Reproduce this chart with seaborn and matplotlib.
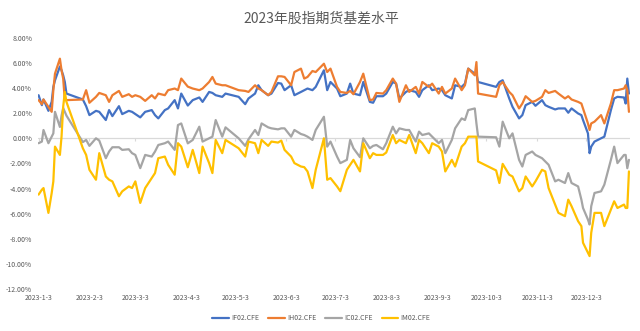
import matplotlib
matplotlib.use("Agg")
import matplotlib.pyplot as plt
import matplotlib.dates as mdates
from matplotlib.ticker import FuncFormatter
import seaborn as sns
import pandas as pd

# 2023 futures basis (%), sampled on trading days
dates = [
    "2023-01-03", "2023-01-05", "2023-01-06", "2023-01-09", "2023-01-11", "2023-01-12",
    "2023-01-13", "2023-01-16", "2023-01-17", "2023-01-18", "2023-01-19", "2023-01-20",
    "2023-01-30", "2023-02-01", "2023-02-03", "2023-02-07", "2023-02-09", "2023-02-13",
    "2023-02-15", "2023-02-17", "2023-02-21", "2023-02-23", "2023-02-27",
    "2023-03-01", "2023-03-03", "2023-03-06", "2023-03-09", "2023-03-13", "2023-03-15",
    "2023-03-17", "2023-03-21", "2023-03-23", "2023-03-27", "2023-03-29", "2023-03-31",
    "2023-04-04", "2023-04-07", "2023-04-11", "2023-04-13", "2023-04-17", "2023-04-19",
    "2023-04-21", "2023-04-25", "2023-04-27",
    "2023-05-05", "2023-05-09", "2023-05-11", "2023-05-15", "2023-05-17", "2023-05-19",
    "2023-05-23", "2023-05-25", "2023-05-29", "2023-05-31",
    "2023-06-02", "2023-06-06", "2023-06-08", "2023-06-12", "2023-06-14", "2023-06-16",
    "2023-06-19", "2023-06-21", "2023-06-26", "2023-06-28", "2023-06-30",
    "2023-07-04", "2023-07-06", "2023-07-10", "2023-07-12", "2023-07-14", "2023-07-18",
    "2023-07-20", "2023-07-24", "2023-07-26", "2023-07-28",
    "2023-08-01", "2023-08-03", "2023-08-07", "2023-08-09", "2023-08-11", "2023-08-15",
    "2023-08-17", "2023-08-21", "2023-08-23", "2023-08-25", "2023-08-29", "2023-08-31",
    "2023-09-04", "2023-09-06", "2023-09-08", "2023-09-12", "2023-09-14", "2023-09-18",
    "2023-09-20", "2023-09-22", "2023-09-26", "2023-09-27", "2023-09-28",
    "2023-10-09", "2023-10-11", "2023-10-13", "2023-10-17", "2023-10-19", "2023-10-23",
    "2023-10-25", "2023-10-27", "2023-10-31",
    "2023-11-02", "2023-11-06", "2023-11-08", "2023-11-10", "2023-11-14", "2023-11-16",
    "2023-11-20", "2023-11-22", "2023-11-24", "2023-11-28", "2023-11-30",
    "2023-12-01", "2023-12-04", "2023-12-05", "2023-12-06", "2023-12-08", "2023-12-12",
    "2023-12-14", "2023-12-18", "2023-12-20", "2023-12-22", "2023-12-26", "2023-12-27",
    "2023-12-28", "2023-12-29",
]

if02 = [
    3.42, 2.63, 3.08, 2.18, 2.90, 4.08, 4.60, 5.70, 5.40, 5.00, 4.47, 3.55,
    3.08, 2.55, 1.84, 2.18, 2.10, 1.45, 2.24, 1.76, 2.55, 1.92, 2.18,
    2.10, 1.92, 1.66, 2.10, 2.24, 1.84, 1.58, 2.24, 2.37, 3.03, 2.37, 3.55,
    2.60, 3.03, 3.24, 2.89, 3.68, 3.60, 3.42, 3.29, 3.55,
    3.29, 2.71, 3.16, 3.55, 4.21, 3.82, 3.42, 3.55, 4.39, 4.34,
    3.82, 4.21, 3.42, 3.68, 3.82, 3.95, 3.82, 4.08, 5.40, 3.82, 4.47,
    3.95, 3.34, 3.55, 4.34, 3.55, 3.42, 4.47, 2.89, 2.82, 3.34,
    3.34, 3.55, 4.47, 4.34, 3.16, 3.68, 3.82, 3.68, 3.29, 3.82, 4.21, 3.82,
    3.95, 3.82, 3.42, 3.16, 4.21, 4.08, 4.34, 5.53, 5.13, 5.13, 4.47,
    4.08, 4.47, 4.61, 3.16, 2.50, 1.58, 1.84, 2.63, 2.89,
    2.58, 3.03, 2.63, 2.50, 2.29, 2.37, 2.37, 2.03, 2.37, 1.97, 1.84,
    1.45, 0.39, -1.18, -0.66, -0.26, 0.00, 0.13, 2.24, 3.16, 3.29, 3.24, 2.76,
    4.74, 3.55,
]

ih02 = [
    3.03, 2.71, 3.08, 2.50, 2.10, 3.82, 5.13, 6.32, 5.40, 4.74, 3.03, 3.03,
    3.08, 3.82, 2.82, 3.29, 3.60, 3.42, 2.89, 3.42, 3.76, 3.29, 3.50,
    3.29, 3.42, 3.29, 2.97, 3.42, 3.16, 3.55, 3.42, 3.82, 3.95, 3.82, 4.74,
    4.10, 3.95, 3.82, 3.95, 4.47, 4.87, 4.34, 4.21, 4.21,
    3.82, 3.76, 3.68, 4.21, 3.95, 3.82, 3.42, 3.68, 4.92, 4.92,
    4.87, 4.21, 5.26, 5.53, 4.74, 4.87, 5.34, 5.26, 5.92, 5.26, 5.53,
    4.08, 3.68, 3.60, 3.76, 3.50, 4.47, 5.13, 3.03, 3.08, 3.60,
    3.55, 3.82, 4.74, 4.34, 2.89, 4.21, 3.68, 4.08, 3.55, 4.47, 4.08, 4.34,
    3.55, 4.08, 3.55, 3.95, 4.74, 3.82, 4.21, 5.53, 5.00, 6.05, 3.55,
    3.29, 4.21, 4.47, 3.68, 3.42, 2.37, 2.76, 3.34, 2.89,
    2.97, 3.29, 3.82, 3.60, 3.76, 3.55, 3.16, 3.34, 3.08, 2.89, 2.76,
    2.37, 1.18, 0.66, 1.18, 1.32, 1.84, 1.18, 2.76, 3.82, 3.82, 3.95, 4.21,
    3.82, 2.10,
]

ic02 = [
    -0.39, -0.26, 0.66, -0.39, 0.13, 0.39, 2.10, 0.90, 1.80, 2.40, 2.10, 1.80,
    -0.30, -0.13, -0.60, 0.00, -0.18, -1.58, -1.05, -0.71, -0.71, -0.92, -0.87,
    -1.18, -1.32, -2.37, -1.32, -1.45, -1.05, -0.53, -0.39, -0.26, -0.92, 1.05, 1.18,
    -0.40, -0.13, 0.92, -0.26, 0.00, 0.13, 1.45, 0.13, 0.87,
    0.00, -0.60, -0.08, 0.66, 0.26, 1.18, 0.87, 0.79, 0.71, 0.79,
    0.79, 0.13, 0.66, 0.34, 0.26, 0.13, -0.13, 0.66, 1.71, -0.66, -0.26,
    -1.45, -1.97, -1.71, -0.13, -0.79, -1.50, 0.00, -0.79, -0.60, -0.53,
    -0.87, -0.39, 0.92, 0.39, 0.79, 0.66, 0.66, -0.26, 0.53, 0.26, 0.39, 0.13,
    -0.39, -0.13, -1.18, -0.13, 0.79, 1.58, 1.45, 2.24, 2.37, 1.18, 0.13,
    0.08, -0.66, 1.32, 0.00, 0.39, -1.71, -2.24, -1.32, -1.05,
    -1.32, -1.58, -1.84, -2.10, -3.42, -3.29, -3.55, -2.76, -3.55, -3.82, -4.87,
    -5.53, -6.45, -6.84, -5.39, -4.34, -4.21, -3.68, -1.71, -0.66, -1.97, -1.32, -1.32,
    -2.37, -1.71,
]

im02 = [
    -4.47, -4.08, -3.95, -5.92, -4.34, -3.42, -0.66, -1.32, 0.13, 2.50, 3.68, 2.89,
    -0.79, -1.32, -2.50, -3.29, -1.18, -3.03, -3.29, -3.42, -4.60, -4.21, -3.82,
    -3.95, -3.42, -5.13, -3.95, -3.16, -2.76, -1.58, -1.45, -2.10, -2.89, -0.39, -0.66,
    -2.30, -0.92, -2.76, -0.66, -1.97, -2.76, -0.13, -1.18, -0.13,
    -0.79, -1.45, -0.26, -0.39, -1.18, -0.13, -0.60, -0.26, -0.34, -0.18,
    -0.92, -1.45, -1.97, -2.24, -2.29, -2.63, -3.95, -2.50, 0.00, -3.29, -3.16,
    -3.82, -4.20, -2.50, -2.10, -1.71, -2.63, -0.39, -1.58, -1.18, -1.32,
    -1.32, -1.13, 0.26, -0.39, -0.13, -0.39, 0.26, -1.18, -0.13, -0.39, -1.18, -0.39,
    -0.66, -1.05, -2.63, -1.71, -2.24, -0.66, -0.39, 0.13, 0.13, 0.13, -1.84,
    -2.55, -3.55, -2.03, -2.89, -3.03, -4.21, -3.95, -3.03, -3.82,
    -3.42, -2.50, -2.63, -3.95, -5.26, -5.92, -6.18, -4.87, -5.39, -6.58, -6.97,
    -8.29, -9.08, -9.35, -7.50, -5.92, -5.92, -6.97, -5.66, -5.00, -5.53, -5.26, -5.53,
    -5.53, -2.63,
]

series_names = ["IF02.CFE", "IH02.CFE", "IC02.CFE", "IM02.CFE"]
series_colors = ["#4472C4", "#ED7D31", "#A5A5A5", "#FFC000"]
x_tick_labels = ["2023-1-3", "2023-2-3", "2023-3-3", "2023-4-3", "2023-5-3", "2023-6-3",
                 "2023-7-3", "2023-8-3", "2023-9-3", "2023-10-3", "2023-11-3", "2023-12-3"]
y_ticks = [-12, -10, -8, -6, -4, -2, 0, 2, 4, 6, 8]
title = "2023年股指期货基差水平"

wide = pd.DataFrame({"date": pd.to_datetime(dates), "IF02.CFE": if02, "IH02.CFE": ih02,
                     "IC02.CFE": ic02, "IM02.CFE": im02})
long = wide.melt(id_vars="date", var_name="series", value_name="basis")

sns.set_theme(style="white")
plt.rcParams["font.family"] = ["Noto Sans CJK SC", "DejaVu Sans"]
plt.rcParams["axes.unicode_minus"] = False
text_color = "#595959"

fig = plt.figure(figsize=(6.4, 3.31), dpi=100)
ax = fig.add_axes([0.059, 0.1254, 0.925, 0.7613])

sns.lineplot(data=long, x="date", y="basis", hue="series", hue_order=series_names,
             palette=series_colors, estimator=None, linewidth=1.6, ax=ax)
for line in ax.get_lines():
    line.set_solid_joinstyle("round")

tick_dates = pd.to_datetime(x_tick_labels, format="%Y-%m-%d")
ax.axhline(0, color="#D9D9D9", linewidth=0.9, zorder=0)
ax.vlines(tick_dates, -0.2, 0, color="#D9D9D9", linewidth=0.8, zorder=0)

ax.set_xlim(pd.Timestamp("2023-01-02 12:00"), pd.Timestamp("2023-12-29 12:00"))
ax.set_ylim(-12, 8)
ax.set_yticks(y_ticks)
ax.yaxis.set_major_formatter(FuncFormatter(lambda v, _: f"{v:.2f}%"))
ax.set_xticks(tick_dates)
ax.set_xticklabels(x_tick_labels)
ax.tick_params(axis="both", length=0, labelsize=5, labelcolor=text_color)
ax.tick_params(axis="x", pad=3)
ax.tick_params(axis="y", pad=4)
for s in ax.spines.values():
    s.set_visible(False)
ax.grid(False)
ax.set_xlabel("")
ax.set_ylabel("")

fig.text(0.502, 0.942, title, ha="center", va="center", fontsize=10, color=text_color)

handles, labels = ax.get_legend_handles_labels()
ax.legend(handles, labels, loc="center", bbox_to_anchor=(0.502, 0.038),
          bbox_transform=fig.transFigure, ncol=4, frameon=False, fontsize=5,
          labelcolor=text_color, handlelength=2.4, handletextpad=0.3,
          columnspacing=1.3, borderpad=0)

fig.savefig("out.png", dpi=100, facecolor="white")
